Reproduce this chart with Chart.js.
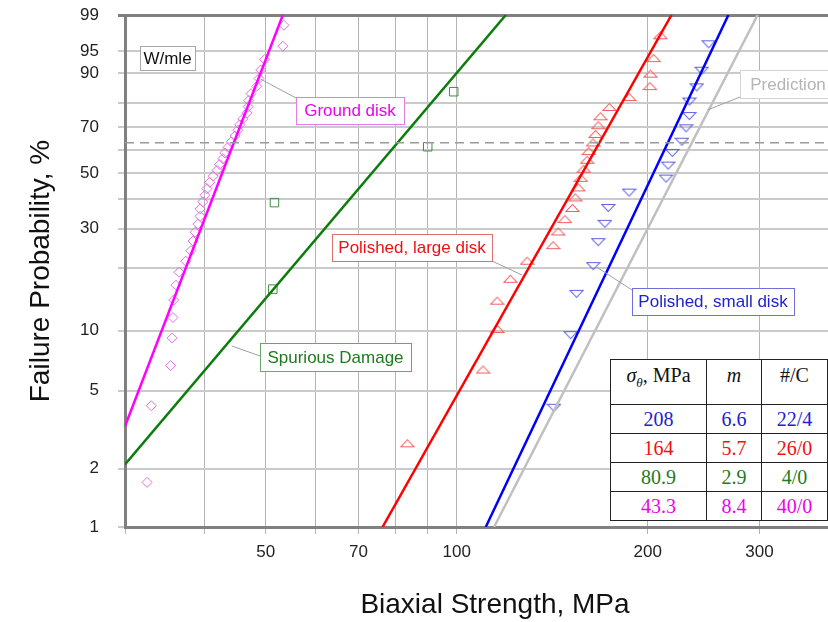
<!DOCTYPE html>
<html>
<head>
<meta charset="utf-8">
<script src="https://cdn.jsdelivr.net/npm/chart.js@4.4.1/dist/chart.umd.min.js"></script>
<style>
  html, body { margin: 0; padding: 0; background: #fff; }
  #wrap { position: relative; width: 828px; height: 622px; overflow: hidden; }
  #chart { position: absolute; left: 0; top: 0; }
  #params { position: absolute; left: 610px; top: 359px; border-collapse: collapse; background: #fff;
            font-family: "Liberation Serif", "Times New Roman", serif; font-size: 20px; }
  #params td, #params th { border: 1.5px solid #222; text-align: center; padding: 0; font-weight: normal; }
  #params th { height: 40px; vertical-align: top; padding-top: 4px; color: #111; }
  #params td { height: 28px; }
</style>
</head>
<body>
<div id="wrap">
  <canvas id="chart" width="880" height="622"></canvas>
  <table id="params"></table>
</div>
<script>
// Weibull plot data, strength in MPa, failure probability in %
const groundX = [32.5, 33.0, 35.4, 35.6, 35.7, 35.8, 36.1, 36.5, 37.4, 38.1, 38.4, 38.7, 39.1, 39.4, 39.4, 39.8, 40.1, 40.4, 40.8, 41.3,
                 41.9, 42.3, 42.8, 43.1, 43.6, 44.1, 44.7, 45.2, 45.5, 46.0, 46.7, 46.9, 47.0, 47.4, 48.4, 48.8, 49.1, 49.8, 53.2, 53.4];
const groundP = [1.7, 4.2, 6.7, 9.2, 11.6, 14.1, 16.6, 19.1, 21.5, 24.0, 26.5, 29.0, 31.4, 33.9, 36.4, 38.9, 41.3, 43.8, 46.3, 48.8,
                 51.2, 53.7, 56.2, 58.7, 61.1, 63.6, 66.1, 68.6, 71.0, 73.5, 76.0, 78.5, 80.9, 83.4, 85.9, 88.4, 90.8, 93.3, 95.8, 98.3];

const spuriousX = [51.3, 51.6, 90.0, 98.9];
const spuriousP = [15.9, 38.6, 61.4, 84.1];

const largeX = [83.6, 110.0, 115.9, 115.8, 121.5, 129.1, 141.9, 144.5, 148.1, 152.2, 153.8, 155.5, 156.9, 158.6, 160.5, 161.5, 164.0,
                165.5, 167.1, 168.5, 174.0, 187.0, 201.6, 202.0, 204.4, 209.4];
const largeP = [2.7, 6.4, 10.2, 14.0, 17.8, 21.6, 25.4, 29.2, 33.0, 36.7, 40.5, 44.3, 48.1, 51.9, 55.7, 59.5, 63.3,
                67.0, 70.8, 74.6, 78.4, 82.2, 86.0, 89.8, 93.6, 97.3];

const smallX = [142.3, 151.2, 154.5, 164.1, 167.1, 171.2, 173.3, 186.9, 213.7, 215.4, 218.7, 226.4, 229.8, 232.6, 232.6, 238.9, 243.3, 249.5];
const smallP = [4.1, 9.5, 15.1, 20.4, 26.2, 31.5, 36.7, 42.3, 47.8, 53.2, 58.7, 63.6, 69.5, 74.7, 80.5, 85.6, 90.6, 96.1];

// fitted lines (end points)
const groundFitX = [30, 53.2],    groundFitP = [3.3, 99];
const spuriousFitX = [30, 119.5], spuriousFitP = [2.1, 99];
const largeFitX = [76.4, 218],    largeFitP = [1, 99];
const smallFitX = [111.1, 268],   smallFitP = [1, 99];
const predictFitX = [114.5, 298], predictFitP = [1, 99];
const charLifeP = 63.2;

// axes
const xGrid = [30, 40, 50, 60, 70, 80, 90, 100, 200, 300, 400];
const xLabels = [50, 70, 100, 200, 300];
const pGrid = [1, 2, 5, 10, 20, 30, 40, 50, 60, 70, 80, 90, 95, 99];
const pLabels = [1, 2, 5, 10, 30, 50, 70, 90, 95, 99];

// table
const tableHead = ['<i>σ<sub style="font-size:13px">θ</sub></i>, MPa', '<i>m</i>', '#/C'];
const tableSigma = ['208', '164', '80.9', '43.3'];
const tableM = ['6.6', '5.7', '2.9', '8.4'];
const tableCount = ['22/4', '26/0', '4/0', '40/0'];
const tableColors = ['#2222cc', '#ee1111', '#1e7b1e', '#ee00ee'];

const wb = p => Math.log(-Math.log(1 - p / 100));
const pts = (xs, ps) => xs.map((x, i) => ({ x: x, y: wb(ps[i]) }));

function triangle(color, down) {
    const c = document.createElement('canvas');
    c.width = 15; c.height = 10;
    const g = c.getContext('2d');
    g.strokeStyle = color;
    g.lineWidth = 1.1;
    g.beginPath();
    if (down) { g.moveTo(1, 1.5); g.lineTo(14, 1.5); g.lineTo(7.5, 8.5); }
    else { g.moveTo(7.5, 1.5); g.lineTo(14, 8.5); g.lineTo(1, 8.5); }
    g.closePath();
    g.stroke();
    return c;
}

function fitLine(xs, ps, color) {
    return { data: pts(xs, ps), borderColor: color, borderWidth: 2.5, pointRadius: 0, showLine: true, fill: false };
}
function marks(xs, ps, style, color, r) {
    return { data: pts(xs, ps), showLine: false, pointStyle: style, pointRadius: r, borderColor: color,
             borderWidth: 1, backgroundColor: 'rgba(0,0,0,0)' };
}

// callout boxes: box = [left, top, width, height] on the page, leader goes to a data point
const callouts = [
    { text: 'W/mle', color: '#111', edge: '#a8a8a8', box: [140, 46, 55, 24] },
    { text: 'Ground disk', color: '#f000f0', edge: '#e47ce4', box: [296, 97, 108, 27], from: [296, 98], to: [49.1, 88.2] },
    { text: 'Spurious Damage', color: '#1e7b1e', edge: '#6aa66a', box: [260, 343, 151, 28], from: [260, 356], to: [44.2, 8.4] },
    { text: 'Polished, large disk', color: '#ee1111', edge: '#e07070', box: [332, 234, 160, 27], from: [492, 261], to: [126.9, 18.5] },
    { text: 'Polished, small disk', color: '#2222cc', edge: '#7070dd', box: [632, 288, 162, 27], from: [632, 290], to: [166.1, 20.2] },
    { text: 'Prediction', color: '#b4b4b4', edge: '#d4d4d4', box: [740, 70, 96, 28], from: [740, 97], to: [248.5, 77.2] }
];

const calloutPlugin = {
    id: 'callouts',
    afterDatasetsDraw(chart) {
        const ctx = chart.ctx;
        const xs = chart.scales.x, ys = chart.scales.y;
        ctx.save();
        callouts.forEach(c => {
            if (c.from) {
                ctx.strokeStyle = '#a0a0a0';
                ctx.lineWidth = 1;
                ctx.beginPath();
                ctx.moveTo(c.from[0], c.from[1]);
                ctx.lineTo(xs.getPixelForValue(c.to[0]), ys.getPixelForValue(wb(c.to[1])));
                ctx.stroke();
            }
            const [l, t, w, h] = c.box;
            ctx.fillStyle = '#fff';
            ctx.fillRect(l, t, w, h);
            ctx.strokeStyle = c.edge;
            ctx.lineWidth = 1;
            ctx.strokeRect(l + 0.5, t + 0.5, w, h);
            ctx.fillStyle = c.color;
            ctx.font = '17px "Liberation Sans", Arial, sans-serif';
            ctx.textAlign = 'center';
            ctx.textBaseline = 'middle';
            ctx.fillText(c.text, l + w / 2, t + h / 2 + 1);
        });
        ctx.restore();
    }
};

const tickFont = { family: '"Liberation Sans", Arial, sans-serif', size: 17 };
const titleFont = { family: '"Liberation Sans", Arial, sans-serif', size: 28 };

new Chart(document.getElementById('chart').getContext('2d'), {
    type: 'scatter',
    data: {
        datasets: [
            { data: pts([30, 440], [charLifeP, charLifeP]), borderColor: '#9a9a9a', borderWidth: 1.5, borderDash: [9, 6],
              pointRadius: 0, showLine: true },
            fitLine(groundFitX, groundFitP, '#ff00ff'),
            fitLine(spuriousFitX, spuriousFitP, '#0a7d0a'),
            fitLine(largeFitX, largeFitP, '#ff0000'),
            fitLine(smallFitX, smallFitP, '#0000ff'),
            fitLine(predictFitX, predictFitP, '#c0c0c0'),
            marks(groundX, groundP, 'rectRot', '#e070e0', 5),
            marks(spuriousX, spuriousP, 'rect', '#3f8f3f', 6),
            marks(largeX, largeP, triangle('#f06060', false), '#f06060', 6),
            marks(smallX, smallP, triangle('#6060e0', true), '#6060e0', 6)
        ]
    },
    options: {
        responsive: false,
        animation: false,
        devicePixelRatio: 1,
        layout: { padding: { top: 0, right: 15, left: 0, bottom: 0 } },
        plugins: { legend: { display: false }, tooltip: { enabled: false } },
        scales: {
            x: {
                type: 'logarithmic',
                min: 30,
                max: 440,
                afterBuildTicks: s => { s.ticks = xGrid.map(v => ({ value: v })); },
                afterFit: s => { s.height = 95; },
                ticks: {
                    autoSkip: false, maxRotation: 0, font: tickFont, color: '#222', padding: 8,
                    callback: v => xLabels.includes(v) ? String(v) : ''
                },
                grid: { color: '#b4b4b4', lineWidth: 1, tickLength: 7 },
                border: { color: '#808080', width: 3 },
                title: { display: true, text: 'Biaxial Strength, MPa', font: titleFont, color: '#111', padding: { top: 4, bottom: 0 } }
            },
            y: {
                type: 'linear',
                min: wb(1),
                max: wb(99),
                afterBuildTicks: s => { s.ticks = pGrid.map(p => ({ value: wb(p) })); },
                afterFit: s => { s.width = 125; s.paddingTop = 15; s.paddingBottom = 0; },
                ticks: {
                    autoSkip: false, font: tickFont, color: '#222', padding: 19,
                    callback: (v, i) => pLabels.includes(pGrid[i]) ? String(pGrid[i]) : ''
                },
                grid: {
                    color: c => c.index === pGrid.length - 1 ? '#808080' : '#cacaca',
                    lineWidth: c => c.index === pGrid.length - 1 ? 3 : 2,
                    tickLength: 7
                },
                border: { color: '#808080', width: 3 },
                title: { display: true, text: 'Failure Probability, %', font: titleFont, color: '#111', padding: { top: 24, bottom: 0 } }
            }
        }
    },
    plugins: [calloutPlugin]
});

// parameter table
const table = document.getElementById('params');
let html = '<tr><th style="width:97px">' + tableHead[0] + '</th><th style="width:55px">' + tableHead[1] +
           '</th><th style="width:66px">' + tableHead[2] + '</th></tr>';
tableSigma.forEach((s, i) => {
    const st = ' style="color:' + tableColors[i] + '"';
    html += '<tr><td' + st + '>' + s + '</td><td' + st + '>' + tableM[i] + '</td><td' + st + '>' + tableCount[i] + '</td></tr>';
});
table.innerHTML = html;
</script>
</body>
</html>
